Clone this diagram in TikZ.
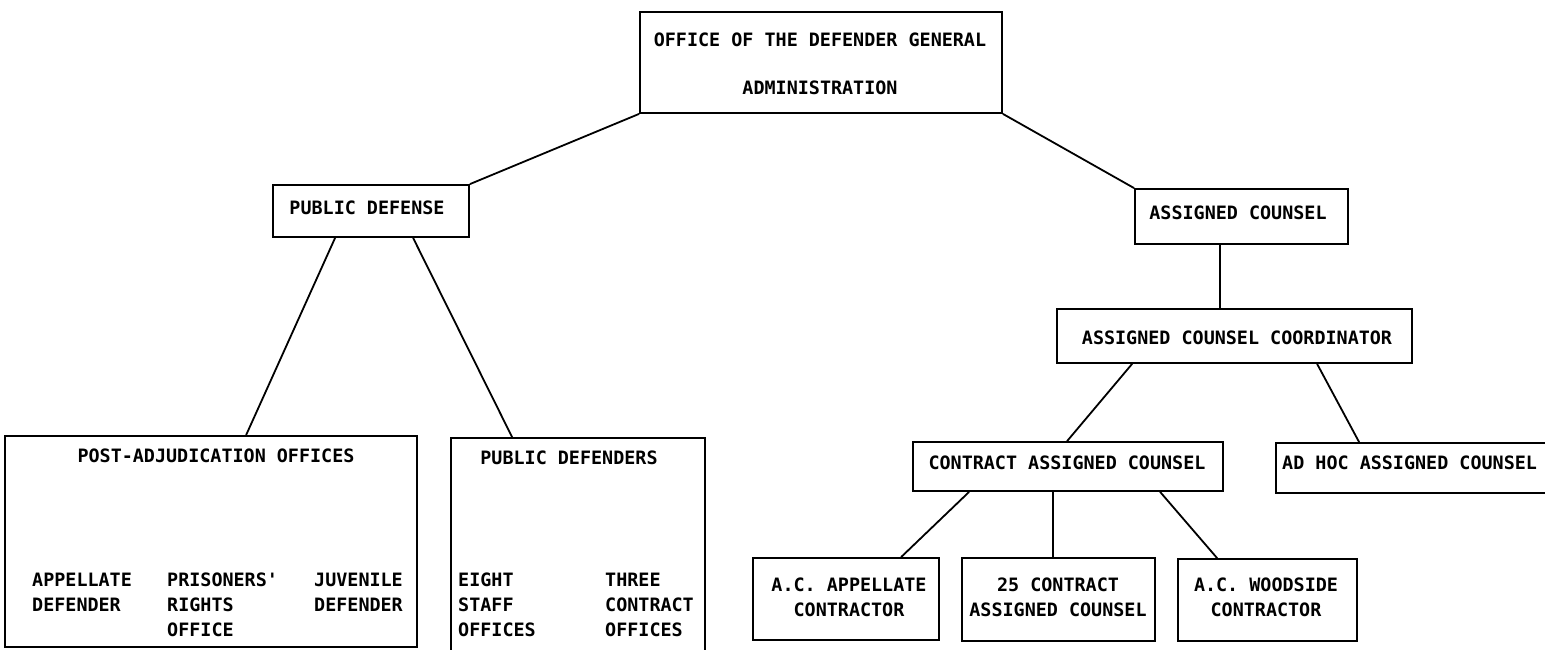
\documentclass[tikz,border=0pt]{standalone}
\usepackage{fontspec}
\newfontfamily\chartfont{DejaVu Sans Mono}
\newcommand\lblfont{\chartfont\bfseries\fontsize{18.4}{25}\selectfont}
\usetikzlibrary{calc}
\tikzset{
  box/.style={draw, line width=1.8pt, inner sep=0pt},
  lbl/.style={inner sep=0pt, font=\lblfont},
  link/.style={line width=1.8pt},
}
\begin{document}
\begin{tikzpicture}[x=1pt,y=-1pt]
\useasboundingbox[fill=white] (0,0) rectangle (1545,650);
\begin{scope}
\clip (0,0) rectangle (1545,650);
% boxes
\node[box, minimum width=362pt, minimum height=101pt] (top) at (821,62.5) {};
\node[box, minimum width=196pt, minimum height=52pt] (pd) at (371,211) {};
\node[box, minimum width=213pt, minimum height=55pt] (ac) at (1241.5,216.5) {};
\node[box, minimum width=355pt, minimum height=54pt] (coord) at (1234.5,336) {};
\node[box, minimum width=310pt, minimum height=49pt] (cac) at (1068,466.5) {};
\node[box, minimum width=284pt, minimum height=50pt] (adhoc) at (1418,468) {};
\node[box, minimum width=186pt, minimum height=82pt] (acapp) at (846,599) {};
\node[box, minimum width=193pt, minimum height=83pt] (c25) at (1058.5,599.5) {};
\node[box, minimum width=179pt, minimum height=82pt] (wood) at (1267.5,600) {};
\node[box, minimum width=412pt, minimum height=211pt] (pa) at (211,541.5) {};
\node[box, minimum width=254pt, minimum height=217pt] (pds) at (578,546.5) {};
% labels
\node[lbl, align=center, font=\chartfont\bfseries\fontsize{18.4}{48}\selectfont] (top-t) at (820,64) {OFFICE OF THE DEFENDER GENERAL\\ADMINISTRATION};
\node[lbl] (pd-t) at (367,208) {PUBLIC DEFENSE};
\node[lbl] (ac-t) at (1238,213) {ASSIGNED COUNSEL};
\node[lbl] (coord-t) at (1237,338) {ASSIGNED COUNSEL COORDINATOR};
\node[lbl] (cac-t) at (1067,463) {CONTRACT ASSIGNED COUNSEL};
\node[lbl, anchor=west] (adhoc-t) at (1282,463) {AD HOC ASSIGNED COUNSEL};
\node[lbl, align=center] (acapp-t) at (849,597.5) {A.C. APPELLATE\\CONTRACTOR};
\node[lbl, align=center] (c25-t) at (1058,597.5) {25 CONTRACT\\ASSIGNED COUNSEL};
\node[lbl, align=center] (wood-t) at (1266,597.5) {A.C. WOODSIDE\\CONTRACTOR};
\node[lbl] (pa-t) at (216,456) {POST-ADJUDICATION OFFICES};
\node[lbl, align=left, anchor=north west] (pa-a) at (32,573) {APPELLATE\\DEFENDER};
\node[lbl, align=left, anchor=north west] (pa-p) at (167,573) {PRISONERS'\\RIGHTS\\OFFICE};
\node[lbl, align=left, anchor=north west] (pa-j) at (314,573) {JUVENILE\\DEFENDER};
\node[lbl] (pds-t) at (569,458) {PUBLIC DEFENDERS};
\node[lbl, align=left, anchor=north west] (pds-e) at (458,573) {EIGHT\\STAFF\\OFFICES};
\node[lbl, align=left, anchor=north west] (pds-c) at (605,573) {THREE\\CONTRACT\\OFFICES};
% connectors
\draw[link] (top.south west) -- (pd.north east);
\draw[link] (top.south east) -- (ac.north west);
\draw[link] ($(pd.south west)+(63,0)$) -- ($(pa.north west)+(242,0)$);
\draw[link] ($(pd.south west)+(141,0)$) -- ($(pds.north west)+(62,0)$);
\draw[link] ($(ac.south west)+(86,0)$) -- ($(coord.north west)+(164,0)$);
\draw[link] ($(coord.south west)+(76,0)$) -- ($(cac.north west)+(155,0)$);
\draw[link] ($(coord.south west)+(261,0)$) -- ($(adhoc.north west)+(84,0)$);
\draw[link] ($(cac.south west)+(57,0)$) -- ($(acapp.north west)+(149,0)$);
\draw[link] ($(cac.south west)+(141,0)$) -- ($(c25.north west)+(92,0)$);
\draw[link] ($(cac.south west)+(248,0)$) -- ($(wood.north west)+(40,0)$);
\end{scope}
\end{tikzpicture}
\end{document}
